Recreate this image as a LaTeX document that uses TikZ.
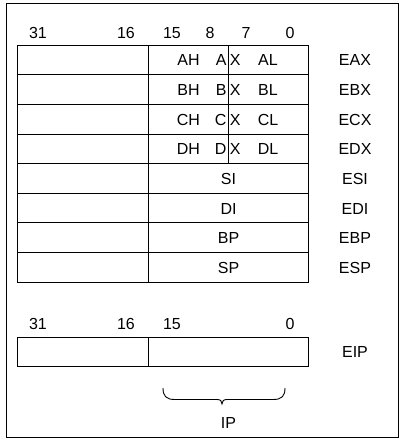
\documentclass[tikz,border=0pt]{standalone}
\usepackage{fontspec}
\setmainfont{Liberation Sans}
\begin{document}
\begin{tikzpicture}[x=1pt,y=-1pt,line width=0.9pt,
	lbl/.style={inner sep=0pt,font=\fontsize{16}{19}\selectfont}]
	
	\useasboundingbox (0,0) rectangle (402,442);
	\draw (6,3) rectangle (398,437);
	
	\foreach \x/\b in {38/31,126/16,172/15,210/8,246/7,290/0}
		\node[lbl] (bit\b) at (\x,33) {\b};
	
	\foreach \r [count=\i from 0] in {AX,BX,CX,DX,SI,DI,BP,SP} {
		\draw (17,45+29.65*\i) rectangle ++(131,29.65);
		\draw (148,45+29.65*\i) rectangle ++(160,29.65);
		\node[lbl] (E\r) at (355,60.3+29.65*\i) {E\r};
	}
	
	\foreach \g [count=\i from 0] in {A,B,C,D} {
		\node[lbl] (\g H) at (188.5,60.3+29.65*\i) {\g H};
		\node[lbl,anchor=east] (\g Xa) at (227,60.3+29.65*\i) {\g};
		\node[lbl,anchor=west] (\g Xb) at (229.5,60.3+29.65*\i) {X};
		\node[lbl] (\g L) at (268,60.3+29.65*\i) {\g L};
	}
	\draw (228.5,45) -- (228.5,163.6);
	
	\foreach \r [count=\i from 4] in {SI,DI,BP,SP}
		\node[lbl] (\r) at (228.5,60.3+29.65*\i) {\r};
	
	\foreach \x/\b in {38/31,126/16,172/15,290/0}
		\node[lbl] (ipbit\b) at (\x,324) {\b};
	
	\draw (17,337.3) rectangle (148,366.7);
	\draw (148,337.3) rectangle (308,366.7);
	\node[lbl] (EIP) at (355,352) {EIP};
	
	\draw (163,388) .. controls (163,396) and (166,399.5) .. (175,399.5) -- (217,399.5)
		.. controls (220.5,399.5) and (222,401) .. (222,404)
		.. controls (222,401) and (223.5,399.5) .. (227,399.5) -- (273,399.5)
		.. controls (282,399.5) and (285,396) .. (285,388);
	\node[lbl] (IP) at (228.5,423) {IP};
	
\end{tikzpicture}
\end{document}
